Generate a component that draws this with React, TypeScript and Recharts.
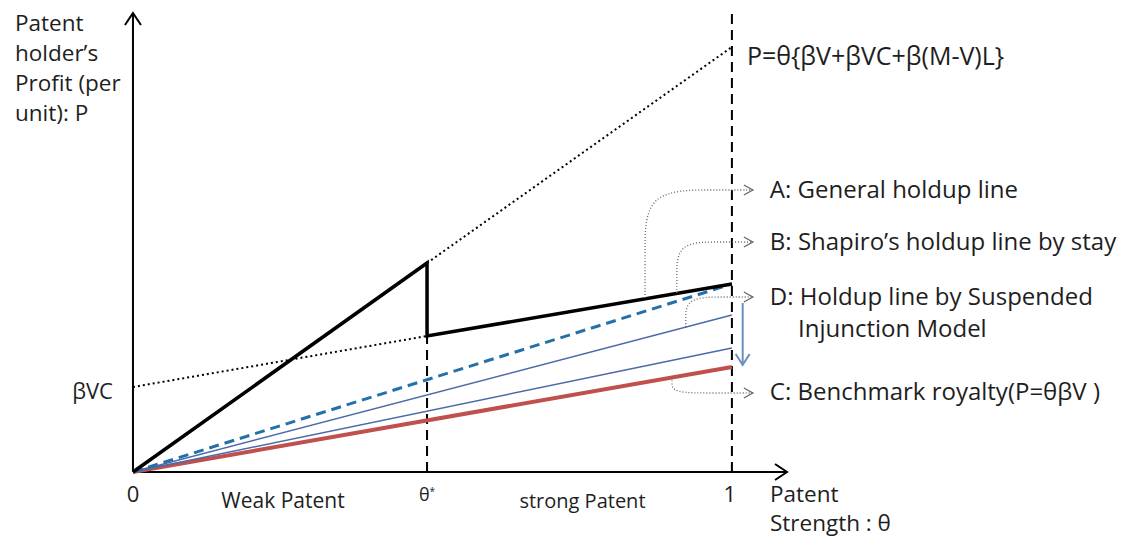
import React from "react";
import { ComposedChart, Line, XAxis, YAxis, ReferenceLine, ReferenceDot } from "recharts";

// theta (patent strength) on x, profit per unit on y (arbitrary units)
const THETA_STAR = 0.491;
const BVC = 0.85;

const holdupTheta = [0, THETA_STAR, THETA_STAR, 1];
const holdupProfit = [0, 2.09, 1.36, 1.88];

const bvcTheta = [0, THETA_STAR];
const bvcProfit = [BVC, 1.36];

const fullTheta = [THETA_STAR, 1];
const fullProfit = [2.09, 4.25];

const endTheta = [0, 1];
const shapiroProfit = [0, 1.88];
const suspendedHigh = [0, 1.57];
const suspendedLow = [0, 1.24];
const benchmarkProfit = [0, 1.05];

// dotted callout connectors (start on a line, end at the label arrow)
const connA = { x: [0.855, 0.855, 0.855, 0.97, 1.035], y: [1.74, 2.2, 2.82, 2.82, 2.82] };
const connB = { x: [0.908, 0.908, 0.908, 0.98, 1.035], y: [1.79, 1.95, 2.3, 2.3, 2.3] };
const connD = { x: [0.923, 0.923, 0.923, 0.99, 1.035], y: [1.45, 1.52, 1.75, 1.75, 1.75] };
const connC = { x: [0.9, 0.9, 0.9, 0.97, 1.035], y: [0.945, 0.9, 0.79, 0.79, 0.79] };

const ARROW_X = 1.035;
const Y_TOP = 4.59;
const X_END = 1.092;

const pts = (xs: number[], ys: number[]) => xs.map((x, i) => ({ x, y: ys[i] }));

const FONT = "'Open Sans', Lato, sans-serif";
const INK = "#1e1e1e";

function note(key: string, x: number, y: number, text: React.ReactNode, o: any = {}) {
  const { dx = 0, dy = 0, size = 24, anchor = "start" } = o;
  return (
    <ReferenceDot
      key={key}
      x={x}
      y={y}
      r={0}
      ifOverflow="visible"
      shape={(p: any) => (
        <text x={p.cx + dx} y={p.cy + dy} fontSize={size} fontFamily={FONT} fill={INK} textAnchor={anchor}>
          {text}
        </text>
      )}
    />
  );
}

function chevron(key: string, x: number, y: number, dir: string, o: any = {}) {
  const { len = 9, half = 5, color = "#000", w = 1.5 } = o;
  return (
    <ReferenceDot
      key={key}
      x={x}
      y={y}
      r={0}
      ifOverflow="visible"
      shape={(p: any) => {
        const { cx, cy } = p;
        let d = "";
        if (dir === "right") d = `M${cx - len},${cy - half} L${cx},${cy} L${cx - len},${cy + half}`;
        if (dir === "up") d = `M${cx - half},${cy + len} L${cx},${cy} L${cx + half},${cy + len}`;
        if (dir === "down") d = `M${cx - half},${cy - len} L${cx},${cy} L${cx + half},${cy - len}`;
        return <path d={d} fill="none" stroke={color} strokeWidth={w} />;
      }}
    />
  );
}

const dotted = { stroke: "#666", strokeWidth: 1.3, strokeDasharray: "1 2" };

export default function App() {
  const conns = [connA, connB, connD, connC];
  return (
    <div style={{ position: "absolute", left: 0, top: 0, width: 1129, height: 540, background: "#fff" }}>
      <ComposedChart width={1129} height={540} margin={{ top: 0, right: 0, bottom: 0, left: 0 }}>
        <XAxis type="number" dataKey="x" domain={[-0.222, 1.663]} allowDataOverflow hide />
        <YAxis type="number" dataKey="y" domain={[-0.68, 4.72]} allowDataOverflow hide />

        {/* axes */}
        <ReferenceLine segment={[{ x: 0, y: 0 }, { x: 0, y: Y_TOP }]} stroke="#000" strokeWidth={2} ifOverflow="visible" />
        <ReferenceLine segment={[{ x: 0, y: 0 }, { x: X_END, y: 0 }]} stroke="#000" strokeWidth={2} ifOverflow="visible" />
        {chevron("yArrow", 0, Y_TOP, "up", { len: 12, half: 8, w: 2 })}
        {chevron("xArrow", X_END, 0, "right", { len: 12, half: 8, w: 2 })}

        {/* vertical dashed guides */}
        <ReferenceLine segment={[{ x: THETA_STAR, y: 0 }, { x: THETA_STAR, y: 1.36 }]} stroke="#000" strokeWidth={2} strokeDasharray="10 6" ifOverflow="visible" />
        <ReferenceLine segment={[{ x: 1, y: 0 }, { x: 1, y: 4.6 }]} stroke="#000" strokeWidth={2} strokeDasharray="10 6" ifOverflow="visible" />

        {/* dotted reference lines */}
        <Line data={pts(bvcTheta, bvcProfit)} dataKey="y" stroke="#000" strokeWidth={2} strokeDasharray="2 3" dot={false} activeDot={false} isAnimationActive={false} />
        <Line data={pts(fullTheta, fullProfit)} dataKey="y" stroke="#000" strokeWidth={2} strokeDasharray="2 3" dot={false} activeDot={false} isAnimationActive={false} />

        {/* holdup lines */}
        <Line data={pts(endTheta, benchmarkProfit)} dataKey="y" stroke="#c0504d" strokeWidth={4} dot={false} activeDot={false} isAnimationActive={false} />
        <Line data={pts(endTheta, suspendedLow)} dataKey="y" stroke="#4a6aa8" strokeWidth={1.5} dot={false} activeDot={false} isAnimationActive={false} />
        <Line data={pts(endTheta, suspendedHigh)} dataKey="y" stroke="#4a6aa8" strokeWidth={1.5} dot={false} activeDot={false} isAnimationActive={false} />
        <Line data={pts(endTheta, shapiroProfit)} dataKey="y" stroke="#2371a8" strokeWidth={3} strokeDasharray="10 6" dot={false} activeDot={false} isAnimationActive={false} />
        <Line data={pts(holdupTheta, holdupProfit)} dataKey="y" stroke="#000" strokeWidth={3.5} strokeLinejoin="miter" dot={false} activeDot={false} isAnimationActive={false} />

        {/* callout connectors */}
        {conns.map((c, i) => (
          <Line key={"c" + i} data={pts(c.x, c.y)} dataKey="y" type="basis" fill="none" {...dotted} dot={false} activeDot={false} isAnimationActive={false} />
        ))}
        {conns.map((c, i) => chevron("ca" + i, ARROW_X, c.y[c.y.length - 1], "right", { color: "#666", w: 1.3 }))}

        {/* blue shift arrow */}
        <ReferenceLine segment={[{ x: 1.018, y: 1.69 }, { x: 1.018, y: 1.07 }]} stroke="#6a8ec0" strokeWidth={2} ifOverflow="visible" />
        {chevron("shift", 1.018, 1.07, "down", { color: "#6a8ec0", w: 2, len: 11, half: 7 })}

        {/* text */}
        {note("yt", 0, 0, (
          <>
            <tspan x={15} y={31}>Patent</tspan>
            <tspan x={15} y={61}>holder’s</tspan>
            <tspan x={15} y={91}>Profit (per</tspan>
            <tspan x={15} y={121}>unit): P</tspan>
          </>
        ), { size: 22.5 })}
        {note("bvc", 0, BVC, "βVC", { dx: -20, dy: 12, anchor: "end", size: 22 })}
        {note("zero", 0, 0, "0", { dy: 30, anchor: "middle", size: 22 })}
        {note("ts", THETA_STAR, 0, (
          <>
            <tspan>θ</tspan>
            <tspan dy={-6} fontSize={10}>*</tspan>
          </>
        ), { dy: 29, anchor: "middle", size: 18 })}
        {note("one", 1, 0, "1", { dx: -2, dy: 30, anchor: "middle", size: 22 })}
        {note("weak", THETA_STAR / 2, 0, "Weak Patent", { dx: 3, dy: 36, anchor: "middle", size: 21 })}
        {note("strong", (THETA_STAR + 1) / 2, 0, "strong Patent", { dx: 3, dy: 36, anchor: "middle", size: 20 })}
        {note("xt", X_END, 0, (
          <>
            <tspan>Patent</tspan>
            <tspan dy={29} x={770}>Strength : θ</tspan>
          </>
        ), { dx: -17, dy: 30, size: 22.5 })}
        {note("formula", 1, 4.25, "P=θ{βV+βVC+β(M-V)L}", { dx: 15, dy: 18, size: 25 })}
        {note("la", ARROW_X, connA.y[4], "A: General holdup line", { dx: 17, dy: 8 })}
        {note("lb", ARROW_X, connB.y[4], "B: Shapiro’s holdup line by stay", { dx: 17, dy: 8 })}
        {note("ld", ARROW_X, connD.y[4], (
          <>
            <tspan>D: Holdup line by Suspended</tspan>
            <tspan dy={32} x={798}>Injunction Model</tspan>
          </>
        ), { dx: 17, dy: 8 })}
        {note("lc", ARROW_X, connC.y[4], "C: Benchmark royalty(P=θβV )", { dx: 17, dy: 7 })}
      </ComposedChart>
    </div>
  );
}
